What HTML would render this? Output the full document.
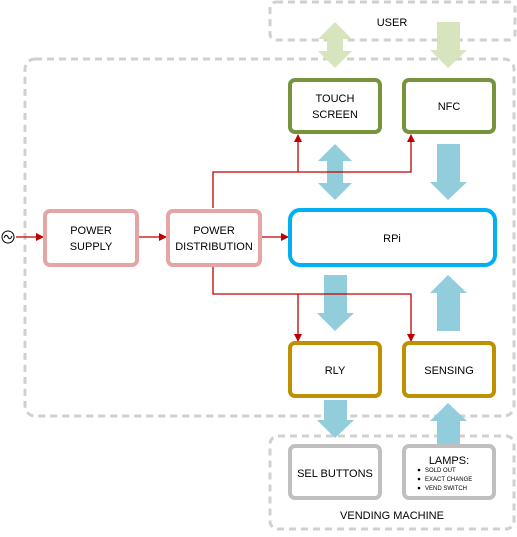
<!DOCTYPE html>
<html><head><style>
body{margin:0;background:#fff;}
svg text{font-family:"Liberation Sans",sans-serif;fill:#000;}
</style></head><body>
<svg width="517" height="532" viewBox="0 0 517 532" xmlns="http://www.w3.org/2000/svg">
<defs>
<marker id="ah" markerWidth="8" markerHeight="8" refX="7" refY="4" orient="auto" markerUnits="userSpaceOnUse" viewBox="0 0 8 8"><path d="M0,0 L8,4 L0,8 z" fill="#c00000"/></marker>
</defs>
<g fill="none" stroke="#d0d0d0" stroke-width="3" stroke-dasharray="7,5">
<rect x="270" y="2" width="245" height="38" rx="6"/>
<rect x="25" y="59" width="489" height="357" rx="10"/>
<rect x="270" y="436" width="244" height="93" rx="8"/>
</g>
<text x="392" y="26" font-size="11" text-anchor="middle">USER</text>
<text x="392" y="519" font-size="11" text-anchor="middle">VENDING MACHINE</text>
<!-- user arrows -->
<path d="M335,22 L352,39 L343,39 L343,51 L352,51 L335,68 L318,51 L327,51 L327,39 L318,39 Z" fill="#d7e4bd"/>
<path d="M437,22 L460,22 L460,50 L467,50 L448,68 L430,50 L437,50 Z" fill="#d7e4bd"/>
<!-- blue arrows -->
<path d="M335,144 L352,161 L343,161 L343,183 L352,183 L335,200 L318,183 L327,183 L327,161 L318,161 Z" fill="#92cddc"/>
<path d="M437,144 L460,144 L460,182 L467,182 L448,200 L430,182 L437,182 Z" fill="#92cddc"/>
<path d="M324,275 L347,275 L347,313 L354,313 L335,331 L317,313 L324,313 Z" fill="#92cddc"/>
<path d="M437,331 L460,331 L460,293 L467,293 L448,275 L430,293 L437,293 Z" fill="#92cddc"/>
<path d="M324,400 L347,400 L347,420 L354,420 L335,438 L317,420 L324,420 Z" fill="#92cddc"/>
<path d="M437,444 L460,444 L460,421 L467,421 L448,403 L430,421 L437,421 Z" fill="#92cddc"/>
<!-- red lines -->
<g stroke="#c00000" stroke-width="1.3" fill="none">
<line x1="16" y1="237" x2="43" y2="237" marker-end="url(#ah)"/>
<line x1="139" y1="237" x2="166" y2="237" marker-end="url(#ah)"/>
<line x1="262" y1="237" x2="288" y2="237" marker-end="url(#ah)"/>
<polyline points="213,208 213,172 411,172 411,135" marker-end="url(#ah)"/>
<polyline points="298,172 298,135" marker-end="url(#ah)"/>
<polyline points="213,267 213,294 411,294 411,341" marker-end="url(#ah)"/>
<polyline points="298,294 298,341" marker-end="url(#ah)"/>
</g>
<circle cx="8" cy="237" r="6" fill="#fff" stroke="#000" stroke-width="1"/>
<path d="M4,238 Q6,233 8,237 T12,236" fill="none" stroke="#000" stroke-width="1"/>
<!-- boxes -->
<g fill="#fff" stroke-width="4">
<rect x="45" y="211" width="92" height="54" rx="5" stroke="#e6a5a5"/>
<rect x="168" y="211" width="92" height="54" rx="5" stroke="#e6a5a5"/>
<rect x="290" y="80" width="90" height="52" rx="5" stroke="#77933c"/>
<rect x="404" y="80" width="90" height="52" rx="5" stroke="#77933c"/>
<rect x="290" y="210" width="205" height="55" rx="10" stroke="#00b0f0"/>
<rect x="290" y="343" width="90" height="53" rx="5" stroke="#bf9000"/>
<rect x="404" y="343" width="90" height="53" rx="5" stroke="#bf9000"/>
<rect x="290" y="446" width="90" height="52" rx="5" stroke="#bfbfbf"/>
<rect x="404" y="446" width="90" height="52" rx="5" stroke="#bfbfbf"/>
</g>
<g font-size="11" text-anchor="middle">
<text x="91" y="234">POWER</text><text x="91" y="250">SUPPLY</text>
<text x="214" y="234">POWER</text><text x="214" y="250">DISTRIBUTION</text>
<text x="335" y="102">TOUCH</text><text x="335" y="118">SCREEN</text>
<text x="449" y="110">NFC</text>
<text x="392" y="242">RPi</text>
<text x="335" y="374">RLY</text>
<text x="449" y="374">SENSING</text>
<text x="335" y="477">SEL BUTTONS</text>
<text x="449" y="464">LAMPS:</text>
</g>
<g font-size="6">
<circle cx="419" cy="470" r="1.3" fill="#000"/><text x="425" y="472">SOLD OUT</text>
<circle cx="419" cy="479" r="1.3" fill="#000"/><text x="425" y="481">EXACT CHANGE</text>
<circle cx="419" cy="488" r="1.3" fill="#000"/><text x="425" y="490">VEND SWITCH</text>
</g>
</svg>
</body></html>
